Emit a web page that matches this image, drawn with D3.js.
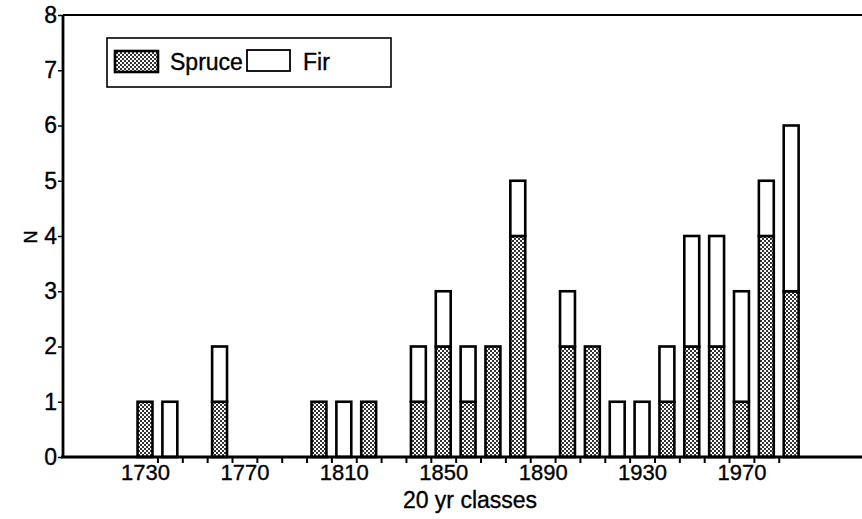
<!DOCTYPE html>
<html>
<head>
<meta charset="utf-8">
<script src="https://cdn.jsdelivr.net/npm/d3@7"></script>
<style>
  body { margin: 0; background: #fff; }
  text { font-family: "Liberation Sans", Arial, Helvetica, sans-serif; fill: #000; stroke: #000; stroke-width: 0.35px; }
</style>
</head>
<body>
<div id="chart"></div>
<script>
// data
var years    = [1730,1740,1760,1800,1810,1820,1840,1850,1860,1870,1880,1900,1910,1920,1930,1940,1950,1960,1970,1980,1990];
var spruce   = [1,   0,   1,   1,   0,   1,   1,   2,   1,   2,   4,   2,   2,   0,   0,   1,   2,   2,   1,   4,   3];
var fir      = [0,   1,   1,   0,   1,   0,   1,   1,   1,   0,   1,   1,   0,   1,   1,   1,   2,   2,   2,   1,   3];
var xLabels  = [1730,1770,1810,1850,1890,1930,1970];
var xBounds  = d3.range(1735, 1986, 10);   // class boundaries (tick marks)
var yTicks   = [0,1,2,3,4,5,6,7,8];

var WIDTH  = 862,
    HEIGHT = 519,
    LEFT   = 63,
    RIGHT  = 862,
    TOP    = 15,
    BOTTOM = 457,
    BAR_YEARS = 6;   // bar width in years

var svg = d3.select('#chart').append('svg')
    .attr('width', WIDTH)
    .attr('height', HEIGHT);

// stipple fill for spruce
var defs = svg.append('defs');
var pat = defs.append('pattern')
    .attr('id', 'stipple')
    .attr('patternUnits', 'userSpaceOnUse')
    .attr('width', 4).attr('height', 4);
pat.append('rect').attr('width', 4).attr('height', 4).attr('fill', '#fff');
pat.append('rect').attr('x', 0).attr('y', 0).attr('width', 2).attr('height', 2).attr('fill', '#333');
pat.append('rect').attr('x', 2).attr('y', 2).attr('width', 2).attr('height', 2).attr('fill', '#333');

var x = d3.scaleLinear().domain([1697, 2018.5]).range([LEFT, RIGHT]);
var y = d3.scaleLinear().domain([0, 8]).range([BOTTOM, TOP]);

var data = years.map(function(yr, i){
    return { year: yr, spruce: spruce[i], fir: fir[i] };
});
var stack = d3.stack().keys(['spruce', 'fir'])(data);

// bars
svg.append('g').selectAll('g')
    .data(stack)
    .enter().append('g')
    .attr('fill', function(d){ return d.key === 'spruce' ? 'url(#stipple)' : '#fff'; })
    .selectAll('rect')
    .data(function(d){ return d.filter(function(s){ return s[1] > s[0]; }); })
    .enter().append('rect')
    .attr('x', function(d){ return x(d.data.year - BAR_YEARS / 2); })
    .attr('width', function(d){ return x(d.data.year + BAR_YEARS / 2) - x(d.data.year - BAR_YEARS / 2); })
    .attr('y', function(d){ return y(d[1]); })
    .attr('height', function(d){ return y(d[0]) - y(d[1]); })
    .attr('stroke', '#000')
    .attr('stroke-width', 2.6);

// top frame line
svg.append('line')
    .attr('x1', LEFT).attr('x2', RIGHT)
    .attr('y1', TOP).attr('y2', TOP)
    .attr('stroke', '#000').attr('stroke-width', 2);

// x axis: boundary ticks
var xAxis = svg.append('g')
    .attr('transform', 'translate(0,' + BOTTOM + ')')
    .call(d3.axisBottom(x).tickValues(xBounds).tickSize(6).tickFormat(''));
xAxis.select('.domain').remove();
xAxis.selectAll('.tick line').attr('stroke-width', 2);

// x axis: labels at class centres
var xLab = svg.append('g')
    .attr('transform', 'translate(0,' + BOTTOM + ')')
    .call(d3.axisBottom(x).tickValues(xLabels).tickSize(0).tickPadding(7).tickFormat(d3.format('d')));
xLab.select('.domain').remove();
xLab.selectAll('text').style('font-size', '22px');

svg.append('line')
    .attr('x1', LEFT - 2).attr('x2', RIGHT)
    .attr('y1', BOTTOM).attr('y2', BOTTOM)
    .attr('stroke', '#000').attr('stroke-width', 2.8);

// y axis
var yAxis = svg.append('g')
    .attr('transform', 'translate(' + LEFT + ',0)')
    .call(d3.axisLeft(y).tickValues(yTicks).tickSize(5).tickPadding(1).tickFormat(d3.format('d')));
yAxis.select('.domain').attr('stroke-width', 2.8).attr('d', 'M0,' + TOP + 'V' + BOTTOM);
yAxis.selectAll('.tick line').attr('stroke-width', 1.5);
yAxis.selectAll('text').style('font-size', '23px');

// axis titles
svg.append('text')
    .attr('x', 470).attr('y', 508)
    .attr('text-anchor', 'middle')
    .style('font-size', '23px')
    .text('20 yr classes');

svg.append('text')
    .attr('transform', 'translate(37,237) rotate(-90)')
    .attr('text-anchor', 'middle')
    .style('font-size', '18px')
    .text('N');

// legend
var legend = svg.append('g');
legend.append('rect')
    .attr('x', 107).attr('y', 38).attr('width', 284).attr('height', 49)
    .attr('fill', '#fff').attr('stroke', '#000').attr('stroke-width', 1.6);
legend.append('rect')
    .attr('x', 115).attr('y', 51).attr('width', 43).attr('height', 21)
    .attr('fill', 'url(#stipple)').attr('stroke', '#000').attr('stroke-width', 2.6);
legend.append('text')
    .attr('x', 170).attr('y', 70)
    .style('font-size', '23px')
    .text('Spruce');
legend.append('rect')
    .attr('x', 247).attr('y', 50).attr('width', 43).attr('height', 21)
    .attr('fill', '#fff').attr('stroke', '#000').attr('stroke-width', 1.8);
legend.append('text')
    .attr('x', 303).attr('y', 70)
    .style('font-size', '23px')
    .text('Fir');
</script>
</body>
</html>
